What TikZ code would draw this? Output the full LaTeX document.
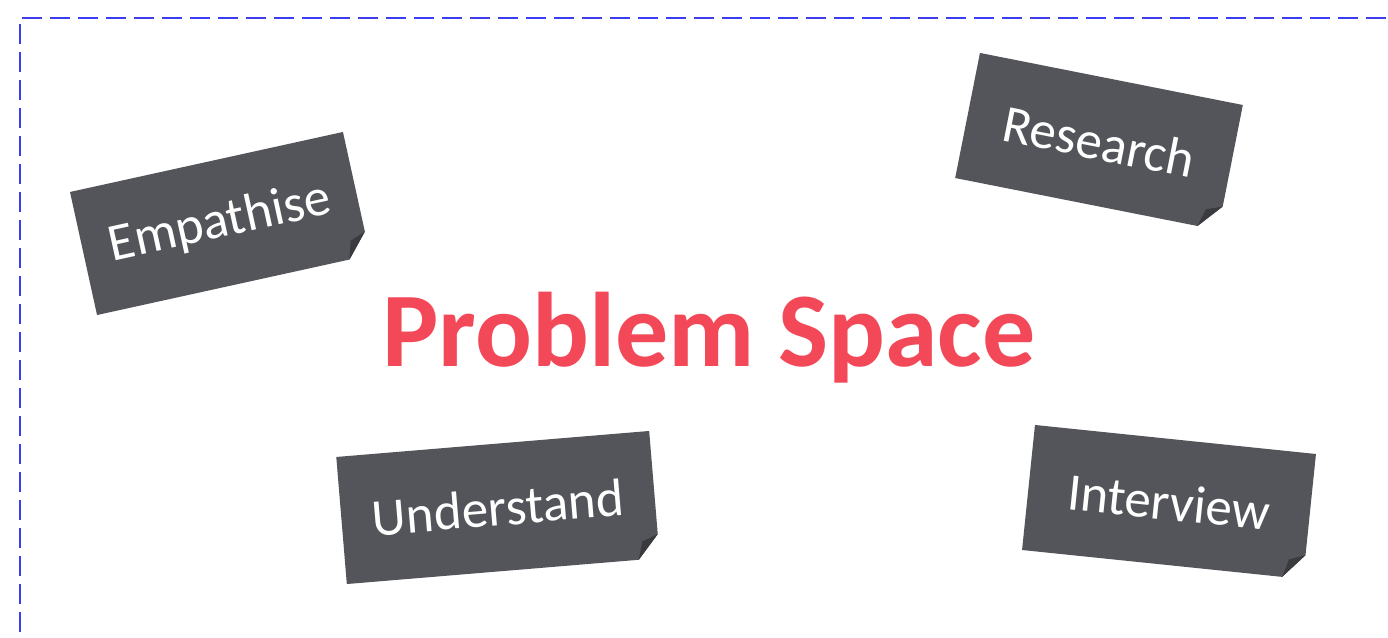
\documentclass[tikz,border=0pt]{standalone}
\usepackage{fontspec}
\setmainfont{Carlito}
\definecolor{notegray}{RGB}{84,85,90}
\definecolor{foldgray}{RGB}{58,59,63}
\definecolor{framblue}{RGB}{60,60,240}
\definecolor{titlered}{RGB}{242,72,88}
\tikzset{
  notebody/.style={fill=notegray, draw=none},
  notefold/.style={fill=foldgray, draw=none},
  notetext/.style={text=white, font=\fontsize{53}{60}\selectfont, inner sep=0pt},
  framedash/.style={draw=framblue, line width=2pt, dash pattern=on 20pt off 8pt},
  titletext/.style={text=titlered, font=\fontsize{106}{120}\selectfont\bfseries, inner sep=0pt}
}
\newcommand\stickynote[7]{%
  \begin{scope}[shift={(#2,#3)}, rotate=#4]
    \fill[notebody] (-#5/2,-#6/2) -- (#5/2,-#6/2) -- (#5/2,#6/2-24) -- (#5/2-21,#6/2) -- (-#5/2,#6/2) -- cycle;
    \fill[notefold] (#5/2,#6/2-24) -- (#5/2-21,#6/2) -- (#5/2-16,#6/2-18) -- cycle;
  \end{scope}
  \node[notetext, rotate=#4] (#1) at (#2,#3) {#7};
}
\begin{document}
\begin{tikzpicture}[x=1pt, y=-1pt]
  \useasboundingbox (0,0) rectangle (1388,637);
  \clip (0,0) rectangle (1388,637);
  \draw[framedash] (20,660) -- (20,18) -- (1420,18);
  \stickynote{empathise}{220}{223.5}{12.4}{279.5}{126}{Empathise}
  \stickynote{research}{1099}{141.5}{-11.2}{268}{127.5}{Research}
  \stickynote{understand}{498}{507.5}{4.75}{314}{127.5}{Understand}
  \stickynote{interview}{1169}{502}{-5.9}{282.5}{125.7}{Interview}
  \node[titletext, anchor=base] (title) at (709,366) {Problem Space};
\end{tikzpicture}
\end{document}
